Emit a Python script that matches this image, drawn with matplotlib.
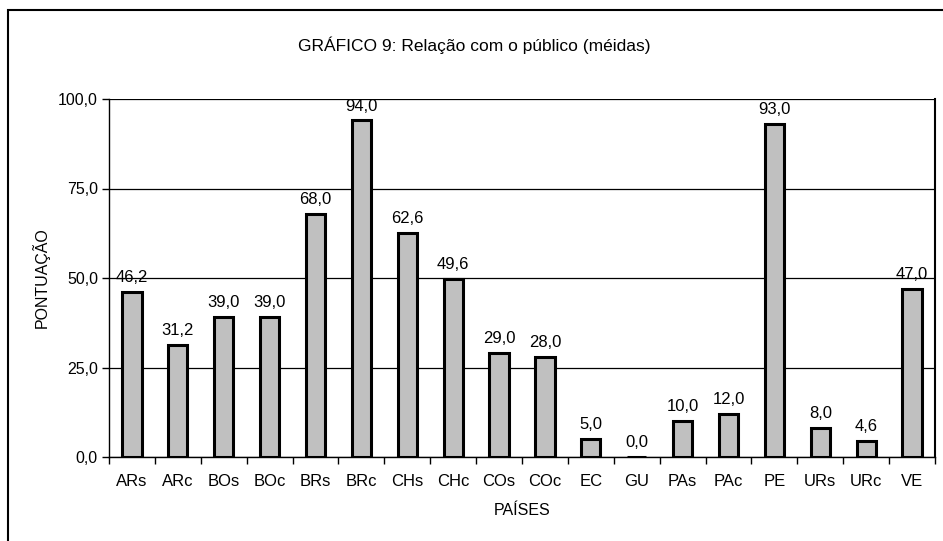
import numpy as np
import matplotlib
matplotlib.use('Agg')
import matplotlib.pyplot as plt
from matplotlib.patches import Rectangle
from matplotlib.ticker import FixedLocator, FuncFormatter

# dados
paises = ['ARs', 'ARc', 'BOs', 'BOc', 'BRs', 'BRc', 'CHs', 'CHc', 'COs', 'COc',
          'EC', 'GU', 'PAs', 'PAc', 'PE', 'URs', 'URc', 'VE']
valores = [46.2, 31.2, 39.0, 39.0, 68.0, 94.0, 62.6, 49.6, 29.0, 28.0,
           5.0, 0.0, 10.0, 12.0, 93.0, 8.0, 4.6, 47.0]
y_ticks = [0, 25, 50, 75, 100]

plt.rcParams['font.family'] = ['Liberation Sans', 'DejaVu Sans']

fig = plt.figure(figsize=(9.43, 5.41), dpi=100)
ax = fig.add_axes([109/943, 1 - 457/541, (935 - 109)/943, (457 - 99)/541])

x = np.arange(len(paises))
ax.bar(x, valores, width=0.42, color='#c0c0c0', edgecolor='black', linewidth=2.2, zorder=3)

for xi, v in zip(x, valores):
    ax.annotate(f'{v:.1f}'.replace('.', ','), (xi, v), xytext=(0, 5),
                textcoords='offset points', ha='center', va='bottom', fontsize=12)

ax.set_xlim(-0.5, len(paises) - 0.5)
ax.set_ylim(0, 100)
ax.set_yticks(y_ticks)
ax.yaxis.set_major_formatter(FuncFormatter(lambda v, p: f'{v:.1f}'.replace('.', ',')))
ax.yaxis.grid(True, color='black', linewidth=0.9)
ax.set_axisbelow(True)

# ticks do eixo x entre categorias
ax.xaxis.set_major_locator(FixedLocator(np.arange(-0.5, len(paises), 1)))
ax.xaxis.set_major_formatter(FuncFormatter(lambda v, p: ''))
ax.xaxis.set_minor_locator(FixedLocator(x))
ax.set_xticklabels(paises, minor=True)
ax.tick_params(axis='x', which='minor', length=0, pad=12, labelsize=12)
ax.tick_params(axis='x', which='major', length=5, width=1, direction='out')
ax.tick_params(axis='y', length=5, width=1, direction='out', labelsize=11.5, pad=3)

ax.spines['top'].set_visible(False)
ax.spines['right'].set_linewidth(1.5)
ax.spines['left'].set_linewidth(1.0)
ax.spines['bottom'].set_linewidth(1.0)

ax.set_ylabel('PONTUAÇÃO', fontsize=11.5, labelpad=6)
ax.set_xlabel('PAÍSES', fontsize=11.5, labelpad=10)

fig.text(0.503, 1 - 45/541, 'GRÁFICO 9: Relação com o público (méidas)',
         ha='center', va='center', fontsize=12.5)

# moldura do gráfico
fig.patches.append(Rectangle((8/943, -0.1), 1.2, 1.1 - 10/541, transform=fig.transFigure,
                             fill=False, edgecolor='black', linewidth=1.5, clip_on=False))

fig.savefig('out.png', dpi=100)
